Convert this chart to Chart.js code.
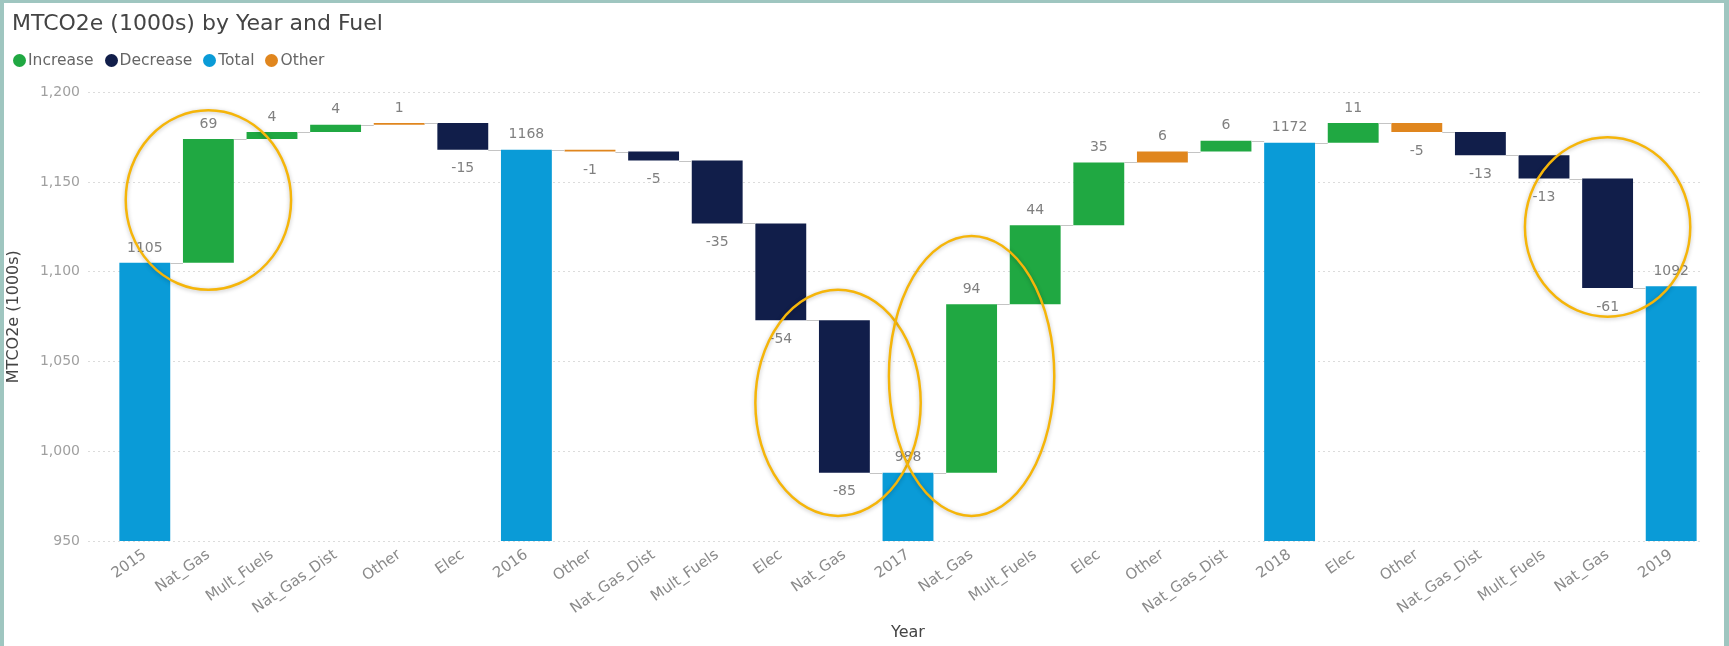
<!DOCTYPE html>
<html>
<head>
<meta charset="utf-8">
<script src="https://cdn.jsdelivr.net/npm/chart.js@4.4.1/dist/chart.umd.min.js"></script>
<style>
  html, body { margin: 0; padding: 0; }
  body { width: 1729px; height: 646px; background: #9fc6c0; overflow: hidden; position: relative; }
  #panel { position: absolute; left: 4px; top: 3px; width: 1720px; height: 643px; background: #fff; }
  canvas { display: block; }
  #legenda {
    position: absolute; left: 13px; top: 51px;
    display: flex; align-items: center;
    font: 15.5px 'DejaVu Sans', sans-serif; color: #666; line-height: 18px;
  }
  #legenda .item { display: flex; align-items: center; margin-right: 11px; }
  #legenda .bola { width: 13px; height: 13px; border-radius: 50%; margin-right: 2px; }
</style>
</head>
<body>
<div id="panel"><canvas id="graficoEmissoes" width="1720" height="643"></canvas></div>
<div id="legenda"></div>
<script>
// Categorias do eixo X (anos = totais, demais = variação por combustível)
const categories = [
  "2015", "Nat_Gas", "Mult_Fuels", "Nat_Gas_Dist", "Other", "Elec",
  "2016", "Other", "Nat_Gas_Dist", "Mult_Fuels", "Elec", "Nat_Gas",
  "2017", "Nat_Gas", "Mult_Fuels", "Elec", "Other", "Nat_Gas_Dist",
  "2018", "Elec", "Other", "Nat_Gas_Dist", "Mult_Fuels", "Nat_Gas",
  "2019"
];
// Valor de cada coluna: total do ano ou variação
const values = [
  1105, 69, 4, 4, 1, -15,
  1168, -1, -5, -35, -54, -85,
  988, 94, 44, 35, 6, 6,
  1172, 11, -5, -13, -13, -61,
  1092
];
const yTicks = [950, 1000, 1050, 1100, 1150, 1200];

// Elipses de destaque: categoria central, valor central, raio em categorias e em valor
const highlights = [
  { at: 1, mid: 1140, rx: 1.3, ry: 50 },
  { at: 10.9, mid: 1027, rx: 1.3, ry: 63 },
  { at: 13, mid: 1042, rx: 1.3, ry: 78 },
  { at: 23, mid: 1125, rx: 1.3, ry: 50 }
];

const seriesNames = ["Increase", "Decrease", "Total", "Other"];
const seriesColors = {
  Increase: "#20a842",
  Decrease: "#111e4a",
  Total: "#0a9bd7",
  Other: "#e0861e"
};

// tipo de cada coluna
const kinds = categories.map((c, i) => {
  if (/^\d{4}$/.test(c)) return "Total";
  if (c === "Other") return "Other";
  return values[i] >= 0 ? "Increase" : "Decrease";
});

// barras flutuantes [início, fim] a partir do acumulado
const bars = [];
let nivel = 0;
values.forEach((v, i) => {
  if (kinds[i] === "Total") {
    bars.push([0, v]);
    nivel = v;
  } else {
    bars.push([nivel, nivel + v]);
    nivel += v;
  }
});

function elementAt(chart, i) {
  const ds = chart.data.datasets.findIndex(d => d.data[i] !== null);
  return chart.getDatasetMeta(ds).data[i];
}

// linhas cinza ligando o fim de uma barra ao início da próxima
const conectores = {
  id: "conectores",
  afterDatasetsDraw(chart) {
    const ctx = chart.ctx;
    const y = chart.scales.y;
    ctx.save();
    ctx.strokeStyle = "#c4c4c4";
    ctx.lineWidth = 1;
    for (let i = 0; i < bars.length - 1; i++) {
      const a = elementAt(chart, i);
      const b = elementAt(chart, i + 1);
      const py = Math.round(y.getPixelForValue(bars[i][1])) + 0.5;
      ctx.beginPath();
      ctx.moveTo(a.x + a.width / 2, py);
      ctx.lineTo(b.x - b.width / 2, py);
      ctx.stroke();
    }
    ctx.restore();
  }
};

// rótulos de valor acima (positivos/totais) ou abaixo (negativos)
const rotulos = {
  id: "rotulos",
  afterDatasetsDraw(chart) {
    const ctx = chart.ctx;
    ctx.save();
    ctx.font = "14px 'DejaVu Sans', sans-serif";
    ctx.fillStyle = "#808080";
    ctx.textAlign = "center";
    ctx.textBaseline = "middle";
    values.forEach((v, i) => {
      const el = elementAt(chart, i);
      const topo = Math.min(el.y, el.base);
      const fundo = Math.max(el.y, el.base);
      if (kinds[i] === "Total" || v >= 0) {
        ctx.fillText(String(v), el.x, topo - 15);
      } else {
        ctx.fillText(String(v), el.x, fundo + 19);
      }
    });
    ctx.restore();
  }
};

// elipses amarelas de destaque
const destaques = {
  id: "destaques",
  afterDraw(chart) {
    const ctx = chart.ctx;
    const x = chart.scales.x;
    const y = chart.scales.y;
    const passo = x.getPixelForValue(1) - x.getPixelForValue(0);
    ctx.save();
    ctx.strokeStyle = "#f5b50a";
    ctx.lineWidth = 2.5;
    ctx.shadowColor = "rgba(0,0,0,0.25)";
    ctx.shadowBlur = 4;
    ctx.shadowOffsetY = 1;
    highlights.forEach(h => {
      const cx = x.getPixelForValue(0) + h.at * passo;
      const cy = y.getPixelForValue(h.mid);
      const ry = Math.abs(y.getPixelForValue(h.mid + h.ry) - cy);
      ctx.beginPath();
      ctx.ellipse(cx, cy, h.rx * passo, ry, 0, 0, Math.PI * 2);
      ctx.stroke();
    });
    ctx.restore();
  }
};

// legenda em HTML
const legenda = document.getElementById("legenda");
seriesNames.forEach(nome => {
  const item = document.createElement("div");
  item.className = "item";
  const bola = document.createElement("span");
  bola.className = "bola";
  bola.style.background = seriesColors[nome];
  item.appendChild(bola);
  item.appendChild(document.createTextNode(nome));
  legenda.appendChild(item);
});

Chart.defaults.font.family = "'DejaVu Sans', sans-serif";

document.addEventListener("DOMContentLoaded", function () {
  const ctx = document.getElementById("graficoEmissoes").getContext("2d");

  new Chart(ctx, {
    type: "bar",
    data: {
      labels: categories,
      datasets: seriesNames.map(nome => ({
        label: nome,
        data: bars.map((b, i) => (kinds[i] === nome ? b : null)),
        backgroundColor: seriesColors[nome],
        grouped: false,
        barPercentage: 0.8,
        categoryPercentage: 1
      }))
    },
    options: {
      responsive: false,
      animation: false,
      devicePixelRatio: 1,
      layout: { padding: { left: 8, right: 21, top: 0, bottom: 0 } },
      scales: {
        x: {
          grid: { display: false },
          border: { display: false },
          ticks: {
            autoSkip: false,
            maxRotation: 35,
            minRotation: 35,
            color: "#8a8a8a",
            font: { size: 15 },
            padding: -3
          },
          title: {
            display: true,
            text: "Year",
            color: "#444",
            font: { size: 16 },
            padding: { top: 0, bottom: 4 }
          },
          afterFit(scale) { scale.height = 105; }
        },
        y: {
          min: 950,
          max: 1200,
          afterBuildTicks(scale) {
            scale.ticks = yTicks.map(v => ({ value: v }));
          },
          ticks: {
            color: "#a0a0a0",
            font: { size: 14 },
            padding: 8,
            callback: v => v.toLocaleString("en-US")
          },
          grid: {
            color: "#dcdcdc",
            tickLength: 25,
            tickBorderDash: [2, 3]
          },
          border: { display: false, dash: [2, 3] },
          title: {
            display: true,
            text: "MTCO2e (1000s)",
            color: "#444",
            font: { size: 16 },
            padding: { top: -7.6, bottom: 0 }
          },
          afterFit(scale) { scale.width = 101; }
        }
      },
      plugins: {
        title: {
          display: true,
          text: "MTCO2e (1000s) by Year and Fuel",
          align: "start",
          color: "#444",
          font: { size: 22, weight: "normal" },
          padding: { top: 8, bottom: 55 }
        },
        legend: { display: false },
        tooltip: { enabled: false }
      }
    },
    plugins: [conectores, rotulos, destaques]
  });
});
</script>
</body>
</html>
